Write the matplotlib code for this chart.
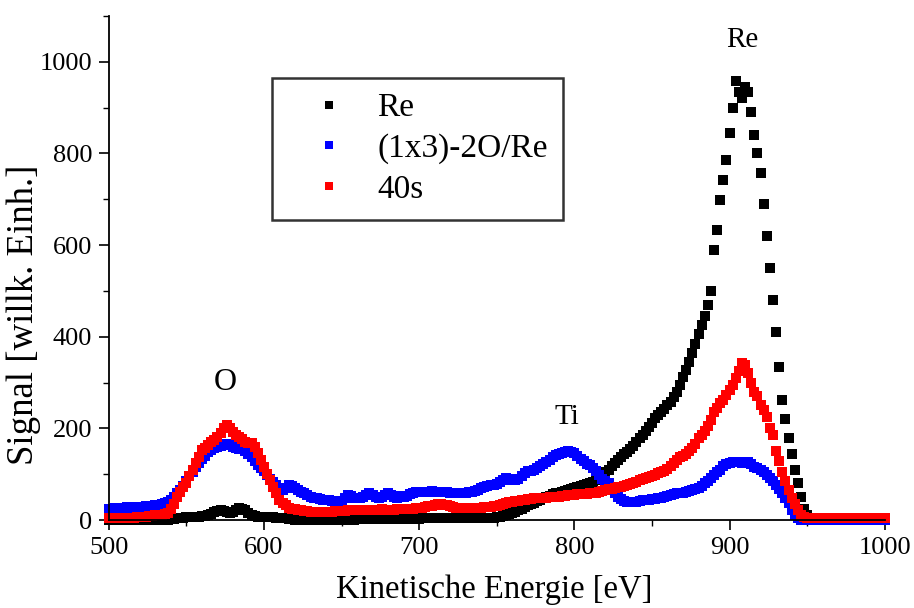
import numpy as np
import matplotlib
matplotlib.use("Agg")
import matplotlib.pyplot as plt
from matplotlib.ticker import MultipleLocator

energy = np.arange(500, 1001, 2)

re_clean = [
    0, 0, 0, 0, 0, 0, 0, 0, 0, 0,
    0, 0, 0, 0, 0, 0, 0, 0, 0, 0,
    2, 3, 4, 5, 5, 6, 6, 6, 7, 7,
    8, 9, 11, 14, 18, 20, 22, 20, 17, 16,
    18, 22, 27, 25, 21, 15, 10, 8, 7, 6,
    6, 6, 6, 6, 5, 5, 5, 4, 3, 2,
    1, 1, 1, 1, 1, 1, 1, 1, 1, 1,
    1, 1, 1, 1, 1, 1, 1, 2, 1, 1,
    2, 2, 2, 2, 2, 2, 2, 2, 3, 3,
    3, 3, 3, 3, 3, 3, 3, 3, 3, 3,
    3, 4, 4, 4, 4, 4, 4, 4, 4, 4,
    4, 4, 5, 5, 5, 5, 5, 5, 5, 5,
    5, 5, 5, 5, 5, 6, 7, 9, 11, 13,
    15, 18, 21, 25, 28, 32, 35, 38, 41, 44,
    47, 50, 53, 56, 58, 60, 62, 64, 66, 68,
    70, 72, 74, 76, 78, 81, 84, 88, 93, 98,
    104, 110, 117, 124, 131, 137, 143, 149, 155, 162,
    170, 178, 185, 195, 203, 212, 222, 230, 236, 242,
    250, 258, 268, 280, 295, 312, 328, 345, 365, 385,
    405, 425, 445, 470, 500, 590, 633, 699, 742, 786,
    845, 900, 958, 935, 920, 945, 935, 890, 840, 800,
    758, 690, 620, 550, 480, 410, 335, 262, 220, 180,
    145, 109, 80, 50, 25, 10, 3, 1, 0, 0,
    0, 0, 0, 0, 0, 0, 0, 0, 0, 0,
    0, 0, 0, 0, 0, 0, 0, 0, 0, 0,
    0,
]

re_1x3_2o = [
    25, 25, 26, 26, 27, 27, 28, 27, 28, 28,
    29, 29, 30, 30, 31, 32, 33, 35, 37, 40,
    44, 50, 58, 66, 75, 85, 95, 105, 115, 125,
    133, 140, 148, 153, 157, 160, 162, 164, 165, 163,
    160, 158, 156, 154, 150, 145, 138, 128, 120, 113,
    106, 98, 90, 83, 76, 70, 66, 70, 76, 74,
    70, 66, 62, 58, 54, 51, 49, 47, 45, 44,
    44, 43, 42, 41, 40, 42, 47, 55, 52, 48,
    48, 48, 50, 55, 58, 55, 50, 48, 50, 55,
    58, 55, 50, 48, 52, 50, 52, 56, 60, 62,
    62, 62, 61, 62, 63, 62, 61, 62, 62, 61,
    60, 59, 58, 58, 59, 60, 61, 62, 63, 65,
    70, 73, 75, 76, 77, 78, 82, 88, 91, 90,
    88, 87, 90, 96, 103, 106, 108, 110, 113, 118,
    123, 127, 132, 137, 142, 145, 147, 149, 150, 149,
    146, 140, 134, 128, 123, 120, 114, 106, 98, 90,
    85, 81, 70, 58, 51, 45, 42, 40, 40, 40,
    40, 42, 43, 44, 44, 45, 46, 47, 48, 50,
    52, 54, 56, 58, 60, 60, 62, 64, 66, 68,
    70, 75, 80, 86, 92, 98, 104, 110, 117, 122,
    124, 126, 127, 126, 124, 126, 126, 122, 116, 113,
    109, 104, 98, 92, 85, 76, 67, 58, 48, 38,
    22, 12, 5, 1, 0, 0, 0, 0, 0, 0,
    0, 0, 0, 0, 0, 0, 0, 0, 0, 0,
    0, 0, 0, 0, 0, 0, 0, 0, 0, 0,
    0,
]

after_40s = [
    4, 4, 4, 4, 4, 5, 5, 5, 5, 6,
    6, 7, 7, 8, 9, 10, 11, 12, 14, 16,
    24, 35, 50, 62, 73, 81, 95, 109, 125, 138,
    153, 158, 164, 170, 175, 182, 190, 200, 207, 200,
    192, 186, 181, 176, 170, 168, 168, 160, 146, 130,
    116, 100, 87, 73, 58, 44, 38, 32, 26, 24,
    24, 22, 21, 20, 19, 18, 17, 17, 17, 17,
    17, 18, 18, 19, 19, 20, 20, 21, 21, 22,
    22, 22, 22, 22, 22, 22, 22, 22, 23, 22,
    22, 22, 22, 23, 24, 24, 24, 25, 25, 26,
    26, 27, 28, 30, 31, 33, 34, 34, 33, 32,
    30, 28, 27, 26, 26, 26, 26, 26, 27, 27,
    27, 28, 28, 29, 30, 31, 33, 35, 37, 39,
    40, 41, 42, 43, 44, 45, 46, 47, 47, 48,
    48, 49, 50, 50, 51, 51, 52, 53, 54, 55,
    55, 56, 56, 57, 57, 58, 59, 60, 62, 64,
    66, 67, 68, 70, 72, 73, 75, 76, 78, 80,
    84, 87, 90, 92, 94, 96, 99, 102, 105, 108,
    112, 118, 125, 132, 138, 140, 145, 150, 158, 167,
    178, 185, 195, 205, 218, 235, 245, 255, 262, 272,
    284, 295, 310, 325, 343, 338, 320, 300, 280, 270,
    250, 240, 225, 200, 185, 150, 128, 105, 85, 65,
    48, 35, 22, 10, 6, 4, 4, 4, 4, 4,
    4, 4, 4, 4, 4, 4, 4, 4, 4, 4,
    4, 4, 4, 4, 4, 4, 4, 4, 4, 4,
    4,
]

series_labels = ["Re", "(1x3)-2O/Re", "40s"]
series_colors = ["#000000", "#0000ff", "#ff0000"]
peak_labels = ["O", "Ti", "Re"]
peak_pos = [(575, 300), (795, 225), (908, 1048)]
peak_sizes = [23, 21, 21]

plt.rcParams['font.family'] = ['Liberation Serif', 'DejaVu Serif']

fig = plt.figure(figsize=(9.14, 6.08), dpi=100)
ax = fig.add_axes([0.119, 0.1447, 0.849, 0.829])

for vals, lab, col in zip([re_clean, re_1x3_2o, after_40s], series_labels, series_colors):
    ax.plot(energy, vals, linestyle='none', marker='s', markersize=6.6,
            color=col, markeredgewidth=0, label=lab, clip_on=False)

for txt, (px, py), fs in zip(peak_labels, peak_pos, peak_sizes):
    ax.text(px, py, txt, fontsize=fs, ha='center', va='center')

ax.set_xlim(500, 1000)
ax.set_ylim(0, 1100)
ax.xaxis.set_major_locator(MultipleLocator(100))
ax.xaxis.set_minor_locator(MultipleLocator(50))
ax.yaxis.set_minor_locator(MultipleLocator(100))
ax.set_yticks([0, 200, 400, 600, 800, 1000])
ax.tick_params(which='major', direction='out', length=7, width=1.2, labelsize=19, pad=5)
ax.tick_params(which='minor', direction='out', length=4, width=1.0)
ax.spines['top'].set_visible(False)
ax.spines['right'].set_visible(False)
ax.spines['left'].set_linewidth(1.3)
ax.spines['bottom'].set_linewidth(1.3)

ax.set_xlabel("Kinetische Energie [eV]", fontsize=23.5)
ax.xaxis.set_label_coords(0.497, -0.108)
ax.set_ylabel("Signal [willk. Einh.]", fontsize=26.5)
ax.yaxis.set_label_coords(-0.087, 0.407)

leg = ax.legend(loc='upper left', bbox_to_anchor=(0.211, 0.877), fontsize=24,
                frameon=True, fancybox=False, shadow=False, markerscale=0.8,
                handletextpad=0.2, borderpad=0.45, labelspacing=0.3, handlelength=2.5,
                borderaxespad=0)
leg.get_frame().set_edgecolor('black')
leg.get_frame().set_linewidth(1.8)

fig.savefig("out.png", dpi=100)
